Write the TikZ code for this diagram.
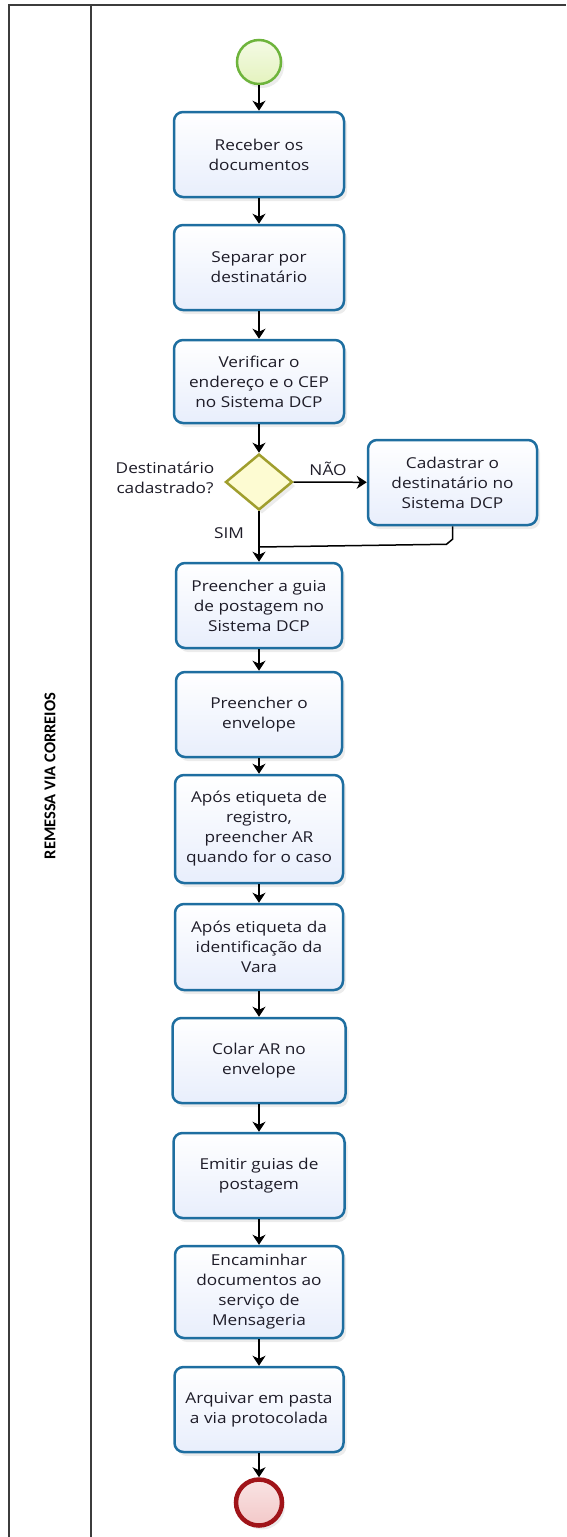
\documentclass[tikz,border=0pt]{standalone}
\usepackage{fontspec}
\setmainfont[FakeStretch=1.15]{Open Sans}
\newfontfamily\lanefont{Carlito}
\usetikzlibrary{shapes.geometric,arrows.meta,shadows}
\definecolor{boxline}{RGB}{30,110,160}
\definecolor{boxfill}{RGB}{232,238,252}
\definecolor{dialine}{RGB}{160,158,45}
\definecolor{diafill}{RGB}{253,251,210}
\definecolor{startline}{RGB}{110,180,60}
\definecolor{startfill}{RGB}{228,243,190}
\definecolor{endline}{RGB}{160,20,25}
\definecolor{endfill}{RGB}{243,200,200}
\definecolor{frameline}{RGB}{60,60,60}
\definecolor{txt}{RGB}{30,28,40}
\begin{document}
\begin{tikzpicture}[x=1pt,y=-1pt,
  every node/.style={text=txt, font=\fontsize{15}{20}\selectfont},
  task/.style={draw=boxline, line width=2.5pt, rounded corners=9pt,
    top color=white, bottom color=boxfill, align=center, inner sep=2pt,
    drop shadow={opacity=0.15, shadow xshift=3pt, shadow yshift=-4pt}},
  gate/.style={diamond, draw=dialine, line width=2.5pt, fill=diafill, inner sep=0pt,
    minimum width=67pt, minimum height=56pt,
    drop shadow={opacity=0.15, shadow xshift=3pt, shadow yshift=-4pt}},
  startev/.style={circle, draw=startline, line width=2.5pt, top color=white!60!startfill, bottom color=startfill,
    minimum size=44pt, inner sep=0pt,
    drop shadow={opacity=0.15, shadow xshift=3pt, shadow yshift=-4pt}},
  endev/.style={circle, draw=endline, line width=4.5pt, top color=white!50!endfill, bottom color=endfill,
    minimum size=46pt, inner sep=0pt,
    drop shadow={opacity=0.15, shadow xshift=3pt, shadow yshift=-4pt}},
  flow/.style={draw=black, line width=1.5pt, -{Stealth[length=10pt,width=13pt,inset=3pt]}},
  lbl/.style={inner sep=1pt}
]
\useasboundingbox (0,0) rectangle (566,1537);
% pool frame
\draw[frameline, line width=2pt] (9,1537) -- (9,5) -- (566,5);
\draw[frameline, line width=2pt] (91,5) -- (91,1537);
\node[rotate=90, font=\lanefont\bfseries\fontsize{16.5}{20}\selectfont, text=black] (lane) at (50,776) {REMESSA VIA CORREIOS};

% events and tasks
\node[startev] (start) at (259,62) {};
\node[task, minimum width=170pt, minimum height=85pt] (rec) at (259,154.5) {Receber os\\documentos};
\node[task, minimum width=170pt, minimum height=85pt] (sep) at (259,267.5) {Separar por\\destinatário};
\node[task, minimum width=170pt, minimum height=83pt] (ver) at (259,381.5) {Verificar o\\endereço e o CEP\\no Sistema DCP};
\node[gate] (dia) at (259,482) {};
\node[task, minimum width=169pt, minimum height=85pt] (cad) at (452.5,482.5) {Cadastrar o\\destinatário no\\Sistema DCP};
\node[task, minimum width=166pt, minimum height=85pt] (pg) at (259,605.5) {Preencher a guia\\de postagem no\\Sistema DCP};
\node[task, minimum width=166pt, minimum height=85pt] (pe) at (259,714.5) {Preencher o\\envelope};
\node[task, minimum width=168pt, minimum height=108pt] (ae) at (259,829) {Após etiqueta de\\registro,\\preencher AR\\quando for o caso};
\node[task, minimum width=168pt, minimum height=86pt] (ai) at (259,947) {Após etiqueta da\\identificação da\\Vara};
\node[task, minimum width=173pt, minimum height=85pt] (col) at (259,1060.5) {Colar AR no\\envelope};
\node[task, minimum width=171pt, minimum height=85pt] (em) at (259,1175.5) {Emitir guias de\\postagem};
\node[task, minimum width=168pt, minimum height=92pt] (enc) at (259,1292) {Encaminhar\\documentos ao\\serviço de\\Mensageria};
\node[task, minimum width=169pt, minimum height=85pt] (arq) at (259,1409.5) {Arquivar em pasta\\a via protocolada};
\node[endev] (end) at (259,1502.5) {};

% labels
\node[lbl, align=center] (q) at (165,478) {Destinatário\\cadastrado?};
\node[lbl] (nao) at (328,469) {NÃO};
\node[lbl] (sim) at (229,533) {SIM};

% connectors
\draw[flow] (start) -- (rec);
\draw[flow] (rec) -- (sep);
\draw[flow] (sep) -- (ver);
\draw[flow] (ver) -- (dia);
\draw[flow] (dia) -- (cad);
\draw[flow] (dia) -- (pg);
\coordinate (join) at (259,547);
\draw[line width=1.5pt] (cad.south) -- ++(0,13) -- ++(-6,5) -- (join);
\draw[flow] (pg) -- (pe);
\draw[flow] (pe) -- (ae);
\draw[flow] (ae) -- (ai);
\draw[flow] (ai) -- (col);
\draw[flow] (col) -- (em);
\draw[flow] (em) -- (enc);
\draw[flow] (enc) -- (arq);
\draw[flow] (arq) -- (end);
\end{tikzpicture}
\end{document}
